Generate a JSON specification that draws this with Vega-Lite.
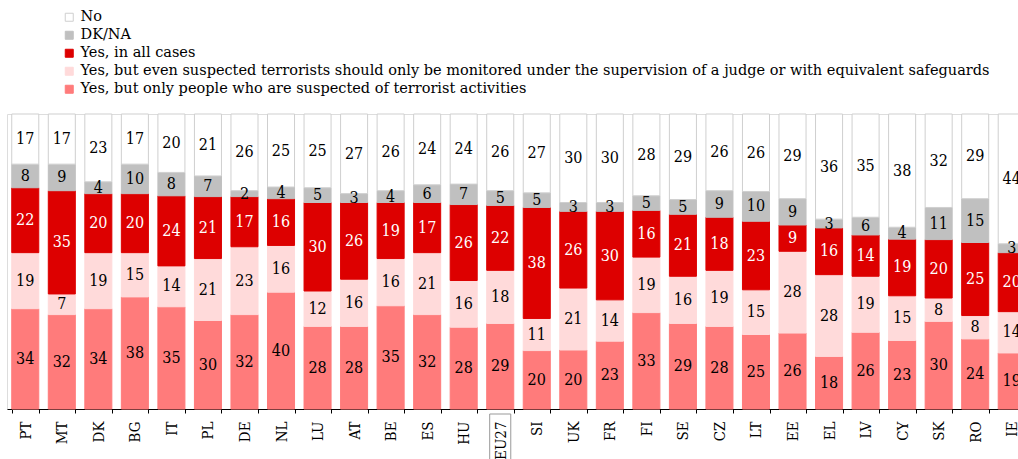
{
  "$schema": "https://vega.github.io/schema/vega-lite/v6.json",
  "autosize": "none",
  "width": 1023,
  "height": 295,
  "padding": {"left": 7, "top": 114, "right": 0, "bottom": 50},
  "background": "white",
  "datasets": {
    "survey": [
      {"country": "PT", "only": 34, "judge": 19, "all": 22, "dk": 8, "no": 17},
      {"country": "MT", "only": 32, "judge": 7, "all": 35, "dk": 9, "no": 17},
      {"country": "DK", "only": 34, "judge": 19, "all": 20, "dk": 4, "no": 23},
      {"country": "BG", "only": 38, "judge": 15, "all": 20, "dk": 10, "no": 17},
      {"country": "IT", "only": 35, "judge": 14, "all": 24, "dk": 8, "no": 20},
      {"country": "PL", "only": 30, "judge": 21, "all": 21, "dk": 7, "no": 21},
      {"country": "DE", "only": 32, "judge": 23, "all": 17, "dk": 2, "no": 26},
      {"country": "NL", "only": 40, "judge": 16, "all": 16, "dk": 4, "no": 25},
      {"country": "LU", "only": 28, "judge": 12, "all": 30, "dk": 5, "no": 25},
      {"country": "AT", "only": 28, "judge": 16, "all": 26, "dk": 3, "no": 27},
      {"country": "BE", "only": 35, "judge": 16, "all": 19, "dk": 4, "no": 26},
      {"country": "ES", "only": 32, "judge": 21, "all": 17, "dk": 6, "no": 24},
      {"country": "HU", "only": 28, "judge": 16, "all": 26, "dk": 7, "no": 24},
      {"country": "EU27", "only": 29, "judge": 18, "all": 22, "dk": 5, "no": 26},
      {"country": "SI", "only": 20, "judge": 11, "all": 38, "dk": 5, "no": 27},
      {"country": "UK", "only": 20, "judge": 21, "all": 26, "dk": 3, "no": 30},
      {"country": "FR", "only": 23, "judge": 14, "all": 30, "dk": 3, "no": 30},
      {"country": "FI", "only": 33, "judge": 19, "all": 16, "dk": 5, "no": 28},
      {"country": "SE", "only": 29, "judge": 16, "all": 21, "dk": 5, "no": 29},
      {"country": "CZ", "only": 28, "judge": 19, "all": 18, "dk": 9, "no": 26},
      {"country": "LT", "only": 25, "judge": 15, "all": 23, "dk": 10, "no": 26},
      {"country": "EE", "only": 26, "judge": 28, "all": 9, "dk": 9, "no": 29},
      {"country": "EL", "only": 18, "judge": 28, "all": 16, "dk": 3, "no": 36},
      {"country": "LV", "only": 26, "judge": 19, "all": 14, "dk": 6, "no": 35},
      {"country": "CY", "only": 23, "judge": 15, "all": 19, "dk": 4, "no": 38},
      {"country": "SK", "only": 30, "judge": 8, "all": 20, "dk": 11, "no": 32},
      {"country": "RO", "only": 24, "judge": 8, "all": 25, "dk": 15, "no": 29},
      {"country": "IE", "only": 19, "judge": 14, "all": 20, "dk": 3, "no": 44}
    ],
    "answers": [
      {"key": "only", "answer": "Yes, but only people who are suspected of terrorist activities", "rank": 1},
      {"key": "judge", "answer": "Yes, but even suspected terrorists should only be monitored under the supervision of a judge or with equivalent safeguards", "rank": 2},
      {"key": "all", "answer": "Yes, in all cases", "rank": 3},
      {"key": "dk", "answer": "DK/NA", "rank": 4},
      {"key": "no", "answer": "No", "rank": 5}
    ]
  },
  "data": {"name": "survey"},
  "transform": [
    {"fold": ["only", "judge", "all", "dk", "no"], "as": ["key", "pct"]},
    {"lookup": "key", "from": {"data": {"name": "answers"}, "key": "key", "fields": ["answer", "rank"]}},
    {"stack": "pct", "groupby": ["country"], "sort": [{"field": "rank", "order": "ascending"}], "offset": "normalize", "as": ["y0", "y1"]},
    {"calculate": "(datum.y0 + datum.y1) / 2", "as": "mid"}
  ],
  "encoding": {
    "x": {
      "field": "country",
      "type": "nominal",
      "sort": ["PT","MT","DK","BG","IT","PL","DE","NL","LU","AT","BE","ES","HU","EU27","SI","UK","FR","FI","SE","CZ","LT","EE","EL","LV","CY","SK","RO","IE"],
      "scale": {"paddingInner": 0.26, "paddingOuter": 0.13},
      "axis": {
        "title": null,
        "labelAngle": -90,
        "labelFont": "DejaVu Serif Condensed",
        "labelFontSize": 15,
        "labelColor": "black",
        "labelPadding": 8,
        "tickBand": "extent",
        "tickSize": 4,
        "tickColor": "black",
        "domainColor": "black",
        "grid": false
      }
    }
  },
  "layer": [
    {
      "mark": {"type": "bar", "strokeWidth": 1},
      "encoding": {
        "y": {"field": "y0", "type": "quantitative", "scale": {"domain": [0, 1]}, "axis": null},
        "y2": {"field": "y1"},
        "color": {
          "field": "answer",
          "type": "nominal",
          "scale": {
            "domain": ["No", "DK/NA", "Yes, in all cases", "Yes, but even suspected terrorists should only be monitored under the supervision of a judge or with equivalent safeguards", "Yes, but only people who are suspected of terrorist activities"],
            "range": ["#ffffff", "#c0c0c0", "#dd0000", "#ffdada", "#ff7b7b"]
          },
          "legend": {
            "title": null,
            "orient": "none",
            "legendX": 55,
            "legendY": -104,
            "symbolType": "square",
            "symbolSize": 64,
            "symbolStrokeWidth": 1,
            "labelFont": "DejaVu Serif",
            "labelFontSize": 14.5,
            "labelColor": "black",
            "labelLimit": 1000,
            "labelOffset": 4,
            "rowPadding": 3
          }
        },
        "stroke": {
          "field": "answer",
          "type": "nominal",
          "scale": {
            "domain": ["No", "DK/NA", "Yes, in all cases", "Yes, but even suspected terrorists should only be monitored under the supervision of a judge or with equivalent safeguards", "Yes, but only people who are suspected of terrorist activities"],
            "range": ["#cfcfcf", "#c0c0c0", "#dd0000", "#ffdada", "#ff7b7b"]
          },
          "legend": null
        }
      }
    },
    {
      "mark": {"type": "text", "font": "DejaVu Serif Condensed", "fontSize": 16},
      "encoding": {
        "y": {"field": "mid", "type": "quantitative"},
        "text": {"field": "pct", "type": "quantitative"},
        "color": {"condition": {"test": "datum.key == 'all'", "value": "white"}, "value": "black"}
      }
    },
    {
      "transform": [{"filter": "datum.country == 'EU27' && datum.key == 'no'"}],
      "mark": {"type": "rect", "fill": null, "stroke": "#999999", "strokeWidth": 1, "width": {"band": 0.78}},
      "encoding": {
        "y": {"datum": -0.017, "type": "quantitative"},
        "y2": {"datum": -0.3}
      }
    }
  ]
}
